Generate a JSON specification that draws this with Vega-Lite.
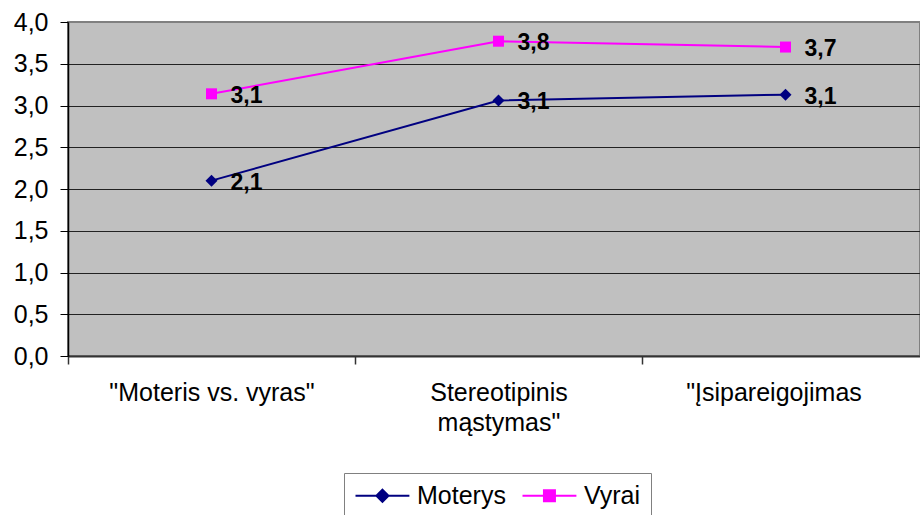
{
  "$schema": "https://vega.github.io/schema/vega-lite/v6.json",
  "autosize": "none",
  "width": 852,
  "height": 334,
  "padding": {"left": 68, "top": 22, "right": 0, "bottom": 159},
  "background": "white",
  "config": {
    "locale": {"number": {"decimal": ",", "thousands": ".", "grouping": [3], "currency": ["", " €"]}},
    "view": {"fill": "#C0C0C0", "stroke": "#808080", "strokeWidth": 2},
    "font": "Liberation Sans"
  },
  "data": {
    "values": [
      {"kategorija": "\"Moteris vs. vyras\"", "lytis": "Moterys", "reiksme": 2.1},
      {"kategorija": "Stereotipinis mąstymas\"", "lytis": "Moterys", "reiksme": 3.06},
      {"kategorija": "\"Įsipareigojimas", "lytis": "Moterys", "reiksme": 3.13},
      {"kategorija": "\"Moteris vs. vyras\"", "lytis": "Vyrai", "reiksme": 3.14},
      {"kategorija": "Stereotipinis mąstymas\"", "lytis": "Vyrai", "reiksme": 3.77},
      {"kategorija": "\"Įsipareigojimas", "lytis": "Vyrai", "reiksme": 3.7}
    ]
  },
  "encoding": {
    "x": {
      "field": "kategorija",
      "type": "nominal",
      "sort": null,
      "scale": {"type": "band", "range": [0, 861], "paddingInner": 0, "paddingOuter": 0},
      "axis": {
        "title": null,
        "labelAngle": 0,
        "labelFontSize": 25,
        "labelColor": "black",
        "labelPadding": 16,
        "labelLineHeight": 30,
        "labelBaseline": "top",
        "labelLimit": 1000,
        "tickBand": "extent",
        "tickSize": 8,
        "tickColor": "#333333",
        "tickWidth": 1.5,
        "domainColor": "#333333",
        "domainWidth": 2,
        "grid": false,
        "labelExpr": "datum.value == 'Stereotipinis mąstymas\"' ? ['Stereotipinis', 'mąstymas\"'] : datum.label",
        "labelOffset": {"condition": {"test": "datum.value == '\"Įsipareigojimas'", "value": -12}, "value": 0}
      }
    },
    "y": {
      "field": "reiksme",
      "type": "quantitative",
      "scale": {"domain": [0, 4], "nice": false, "zero": true},
      "axis": {
        "title": null,
        "values": [0, 0.5, 1, 1.5, 2, 2.5, 3, 3.5, 4],
        "format": ".1f",
        "labelFontSize": 25,
        "labelColor": "black",
        "labelPadding": 12,
        "tickSize": 8,
        "tickColor": "black",
        "domainColor": "black",
        "domainWidth": 1.5,
        "grid": true,
        "gridColor": "#222222",
        "gridWidth": 1,
        "gridOpacity": {"condition": {"test": "datum.value == 4", "value": 0}, "value": 1}
      }
    }
  },
  "layer": [
    {
      "mark": {"type": "line", "strokeWidth": 2},
      "encoding": {
        "color": {
          "field": "lytis",
          "type": "nominal",
          "scale": {"domain": ["Moterys", "Vyrai"], "range": ["#000080", "#FF00FF"]},
          "legend": {
            "orient": "none",
            "legendX": 276,
            "legendY": 451,
            "direction": "horizontal",
            "title": null,
            "symbolSize": 484,
            "symbolType": "M-1,0H3.9",
            "labelOffset": 38,
            "columnPadding": 12,
            "padding": 10,
            "strokeColor": "#808080",
            "fillColor": "white",
            "labelFontSize": 25,
            "labelFont": "Liberation Sans",
            "labelColor": "black",
            "encode": {
              "symbols": {
                "update": {
                  "shape": {"signal": "datum.value === 'Moterys' ? 'M-1,0H3.9M1.45,-0.55L2,0L1.45,0.55L0.9,0Z' : 'M-1,0H3.9M0.95,-0.5H1.95V0.5H0.95Z'"},
                  "fill": {"scale": "color", "field": "value"},
                  "stroke": {"scale": "color", "field": "value"},
                  "strokeWidth": {"value": 2},
                  "opacity": {"value": 1}
                }
              }
            }
          }
        }
      }
    },
    {
      "mark": {"type": "point", "filled": true, "opacity": 1},
      "encoding": {
        "color": {"field": "lytis", "type": "nominal"},
        "shape": {"condition": {"test": "datum.lytis == 'Moterys'", "value": "diamond"}, "value": "square"},
        "size": {"condition": {"test": "datum.lytis == 'Moterys'", "value": 144}, "value": 121}
      }
    },
    {
      "mark": {"type": "text", "align": "left", "baseline": "middle", "dx": 19, "dy": 2, "fontSize": 23, "fontWeight": "bold", "color": "black"},
      "encoding": {
        "text": {"field": "reiksme", "type": "quantitative", "format": ".1f"}
      }
    }
  ]
}
